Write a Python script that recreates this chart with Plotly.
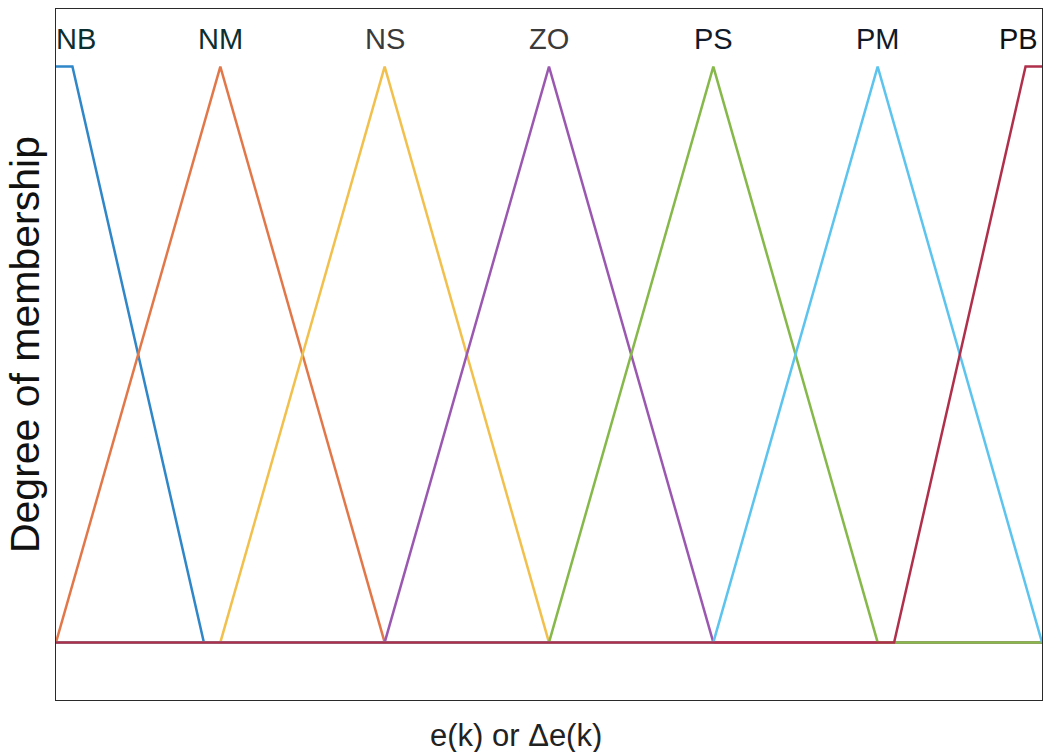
import numpy as np
import plotly.graph_objects as go

# Fuzzy sets over the normalised universe of discourse
set_names = ["NB", "NM", "NS", "ZO", "PS", "PM", "PB"]
# Trapezoid parameters (a, b, c, d); triangles have b == c
set_params = [
    (-4.0, -3.0, -2.9, -2.1),
    (-3.0, -2.0, -2.0, -1.0),
    (-2.0, -1.0, -1.0, 0.0),
    (-1.0, 0.0, 0.0, 1.0),
    (0.0, 1.0, 1.0, 2.0),
    (1.0, 2.0, 2.0, 3.0),
    (2.1, 2.9, 3.0, 4.0),
]
set_colors = ["#2f86c8", "#e2784a", "#f2c04c", "#9a58b0", "#86b84a", "#5cc4ee", "#b0304c"]
label_x = [-2.88, -2.0, -1.0, 0.0, 1.0, 2.0, 2.86]
label_colors = ["#0b2f30", "#0b2f30", "#3a3a3a", "#3a3a3a", "#111a2a", "#111a2a", "#111111"]

x_min, x_max = -3.0, 3.0
FONT = "Arial, Liberation Sans, sans-serif"


def membership_polyline(params):
    a, b, c, d = params
    pts = [x_min, x_max] + [p for p in params if x_min < p < x_max]
    xs = np.array(sorted(set(pts)))
    ys = np.interp(xs, [a, b, c, d], [0.0, 1.0, 1.0, 0.0], left=0.0, right=0.0)
    return xs, ys


fig = go.Figure()
for name, params, color in zip(set_names, set_params, set_colors):
    xs, ys = membership_polyline(params)
    fig.add_trace(go.Scatter(x=xs, y=ys, mode="lines", name=name,
                             line=dict(color=color, width=2.5),
                             hoverinfo="skip", showlegend=False))

for name, lx, lc in zip(set_names, label_x, label_colors):
    fig.add_annotation(x=lx, y=1.048, text=name, showarrow=False,
                       font=dict(family=FONT, size=29, color=lc),
                       xanchor="center", yanchor="middle")

# Axis titles
fig.add_annotation(xref="paper", yref="paper", x=0.4665, y=-0.052,
                   text="e(k) or \u0394e(k)", showarrow=False,
                   xanchor="center", yanchor="middle",
                   font=dict(family=FONT, size=31, color="#222222"))
fig.add_annotation(xref="paper", yref="paper", x=-0.0314, y=0.5137,
                   text="Degree of membership", showarrow=False, textangle=-90,
                   xanchor="center", yanchor="middle",
                   font=dict(family=FONT, size=41, color="#111111"))

fig.update_xaxes(range=[x_min, x_max], showticklabels=False, ticks="",
                 showgrid=False, zeroline=False, showline=True, mirror=True,
                 linecolor="#2a2a2a", linewidth=1.2)
fig.update_yaxes(range=[-0.1, 1.1], showticklabels=False, ticks="",
                 showgrid=False, zeroline=False, showline=True, mirror=True,
                 linecolor="#2a2a2a", linewidth=1.2)

fig.update_layout(width=1046, height=752,
                  margin=dict(l=56, r=4, t=9, b=52),
                  paper_bgcolor="white", plot_bgcolor="white")

fig.write_html("out.html")
